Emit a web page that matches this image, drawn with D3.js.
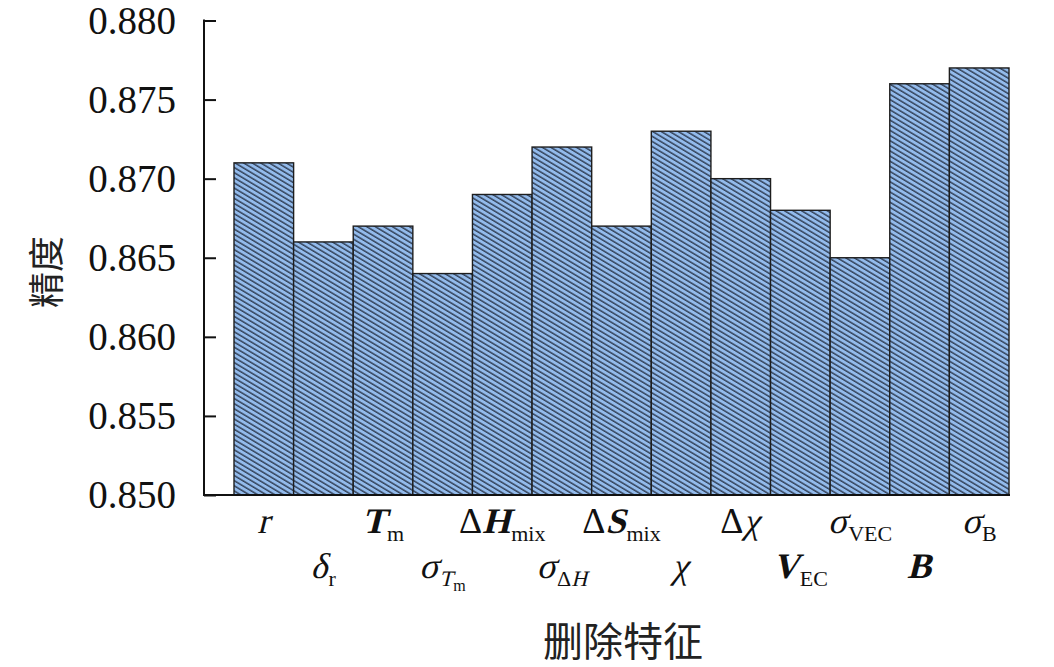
<!DOCTYPE html>
<html>
<head>
<meta charset="utf-8">
<script src="https://cdn.jsdelivr.net/npm/d3@7"></script>
<style>
  html, body { margin: 0; padding: 0; background: #fff; }
  svg { display: block; }
</style>
</head>
<body>
<svg id="chart" width="1054" height="667"></svg>
<script>
// ---- data ----
const categories = ["r", "δr", "Tm", "σTm", "ΔHmix", "σΔH", "ΔSmix", "χ", "Δχ", "VEC", "σVEC", "B", "σB"];
const accuracy = [0.871, 0.866, 0.867, 0.864, 0.869, 0.872, 0.867, 0.873, 0.870, 0.868, 0.865, 0.876, 0.877];
const yTicks = [0.850, 0.855, 0.860, 0.865, 0.870, 0.875, 0.880];
// label segments: [text, kind]  i=italic, ib=bold italic, r=roman, s=subscript, si=italic subscript, ss=sub-subscript
const labelParts = [
  [["r","i"]],
  [["δ","i"],["r","s"]],
  [["T","ib"],["m","s"]],
  [["σ","i"],["T","si"],["m","ss"]],
  [["Δ","r"],["H","ib"],["mix","s"]],
  [["σ","i"],["Δ","s"],["H","si"]],
  [["Δ","r"],["S","ib"],["mix","s"]],
  [["χ","i"]],
  [["Δ","r"],["χ","i"]],
  [["V","ib"],["EC","s"]],
  [["σ","i"],["VEC","s"]],
  [["B","ib"]],
  [["σ","i"],["B","s"]]
];
const yTitle = "精度";
const xTitle = "删除特征";

// ---- layout ----
const svg = d3.select("#chart");
const axisLeft = 204, axisBottom = 495, plotTop = 20.5;
const x = d3.scaleBand().domain(categories).range([234, 1009]).paddingInner(0).paddingOuter(0);
const y = d3.scaleLinear().domain([0.850, 0.880]).range([axisBottom, plotTop]);

// hatch pattern
const defs = svg.append("defs");
const pat = defs.append("pattern")
  .attr("id", "hatch").attr("patternUnits", "userSpaceOnUse")
  .attr("width", 10).attr("height", 4.4)
  .attr("patternTransform", "rotate(31)");
pat.append("rect").attr("width", 10).attr("height", 4.4).attr("fill", "#93bbec");
pat.append("line").attr("x1", 0).attr("x2", 10).attr("y1", 1).attr("y2", 1)
  .attr("stroke", "#34435a").attr("stroke-width", 1.5);

// bars
svg.append("g").selectAll("rect").data(categories).join("rect")
  .attr("x", d => x(d))
  .attr("y", (d, i) => y(accuracy[i]))
  .attr("width", x.bandwidth())
  .attr("height", (d, i) => axisBottom - y(accuracy[i]))
  .attr("fill", "url(#hatch)")
  .attr("stroke", "#1e1e1e").attr("stroke-width", 1.4);

// y axis (ticks inward)
const yAxis = d3.axisRight(y).tickValues(yTicks).tickSize(12).tickFormat("");
const yg = svg.append("g").attr("transform", `translate(${axisLeft},0)`).call(yAxis);
yg.select(".domain").remove();
yg.selectAll(".tick line").attr("stroke", "#111").attr("stroke-width", 2);
svg.append("line").attr("x1", axisLeft).attr("x2", axisLeft).attr("y1", plotTop - 1).attr("y2", axisBottom + 1)
  .attr("stroke", "#111").attr("stroke-width", 2);
svg.append("line").attr("x1", axisLeft - 1).attr("x2", 1010).attr("y1", axisBottom).attr("y2", axisBottom)
  .attr("stroke", "#111").attr("stroke-width", 2);

// y tick labels
svg.append("g").selectAll("text").data(yTicks).join("text")
  .attr("x", 176).attr("y", d => y(d) + 13)
  .attr("text-anchor", "end")
  .attr("font-family", "'Liberation Serif', 'DejaVu Serif', serif")
  .attr("font-size", 39).attr("fill", "#111")
  .text(d => d3.format(".3f")(d));

// x labels: centered under each bar, staggered in two rows; each segment its own <text>, italic via skew
const sizes = { i: 36, ib: 36, r: 36, s: 22, si: 22, ss: 16 };
const shifts = { i: 0, ib: 0, r: 0, s: 8, si: 8, ss: 13 };
const italicKinds = new Set(["i", "ib", "si"]);
const rowBaselines = [533, 578];
labelParts.forEach((parts, i) => {
  let off = 0;
  const segs = parts.map(([txt, kind]) => {
    const t = svg.append("text")
      .attr("font-family", "'Liberation Serif', 'DejaVu Serif', serif")
      .attr("font-size", sizes[kind])
      .attr("font-weight", kind === "ib" ? "bold" : "normal")
      .attr("fill", "#111")
      .text(txt);
    const w = t.node().getBBox().width;
    const s = { t, kind, off, shift: shifts[kind] };
    off += w + (kind === "i" || kind === "ib" ? 1 : 0);
    return s;
  });
  const cx = x(categories[i]) + x.bandwidth() / 2;
  const startX = cx - off / 2;
  const base = rowBaselines[i % 2];
  segs.forEach(s => {
    s.t.attr("transform",
      `translate(${startX + s.off},${base + s.shift})` +
      (italicKinds.has(s.kind) ? " skewX(-14)" : ""));
  });
});

// axis titles
svg.append("text")
  .attr("transform", "translate(44,272) rotate(-90)")
  .attr("text-anchor", "middle").attr("dominant-baseline", "central")
  .attr("font-family", "'Noto Sans CJK SC', sans-serif")
  .attr("font-size", 36).attr("fill", "#222")
  .text(yTitle);
svg.append("text")
  .attr("x", 623).attr("y", 656)
  .attr("text-anchor", "middle")
  .attr("font-family", "'Noto Sans CJK SC', sans-serif")
  .attr("font-size", 40).attr("fill", "#222")
  .text(xTitle);
</script>
</body>
</html>
